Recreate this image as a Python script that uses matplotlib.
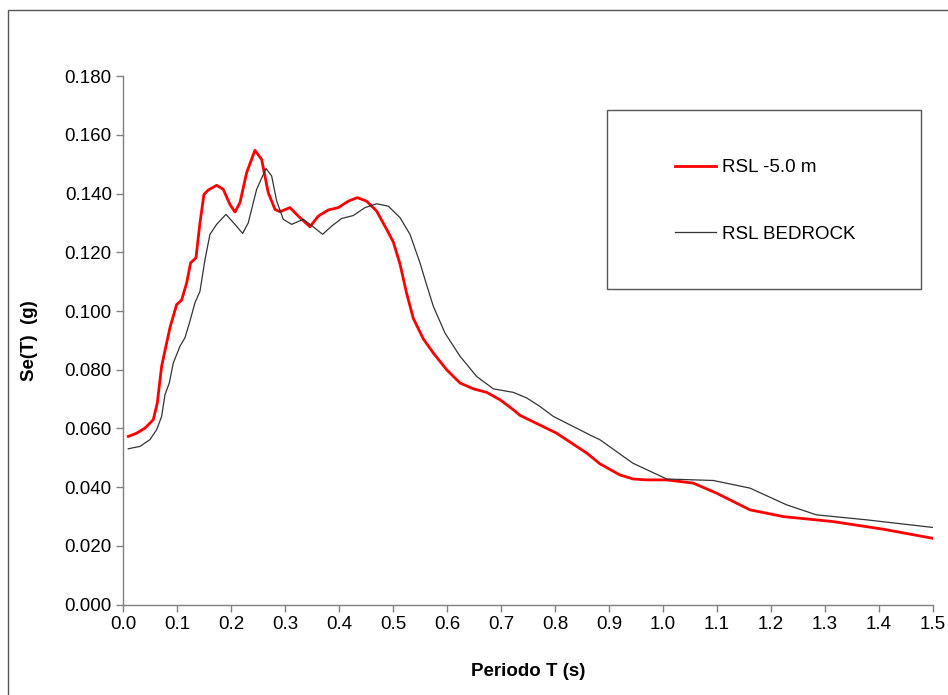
import matplotlib
matplotlib.use("Agg")
import matplotlib.pyplot as plt
from matplotlib.patches import Rectangle

# RSL -5.0 m (red)
t_rsl5 = [0.0099, 0.0253, 0.0407, 0.0562, 0.0636, 0.0716, 0.0796, 0.087, 0.0994, 0.1086,
          0.118, 0.1253, 0.1352, 0.1426, 0.150, 0.158, 0.1735, 0.1858, 0.198, 0.2074,
          0.2167, 0.229, 0.2444, 0.2568, 0.269, 0.2815, 0.2907, 0.3093, 0.3247, 0.3463,
          0.3617, 0.3802, 0.3988, 0.4173, 0.434, 0.4512, 0.4698, 0.4883, 0.5006, 0.513,
          0.5253, 0.5376, 0.5562, 0.5747, 0.5994, 0.6241, 0.6488, 0.6735, 0.6981, 0.7228,
          0.735, 0.803, 0.859, 0.883, 0.920, 0.945, 0.970, 1.007, 1.056, 1.099,
          1.161, 1.223, 1.315, 1.408, 1.5]
se_rsl5 = [0.0573, 0.0584, 0.0601, 0.063, 0.0687, 0.0812, 0.088, 0.0943, 0.1022, 0.1037,
           0.1096, 0.1164, 0.1181, 0.130, 0.1397, 0.1412, 0.1428, 0.1414, 0.1363, 0.1337,
           0.1369, 0.1471, 0.1547, 0.1516, 0.1403, 0.1346, 0.1338, 0.1352, 0.1323, 0.1287,
           0.1323, 0.1344, 0.1352, 0.1374, 0.1386, 0.1374, 0.134, 0.1278, 0.1235, 0.1160,
           0.1060, 0.0975, 0.0905, 0.0857, 0.080, 0.0755, 0.0735, 0.0723, 0.0698, 0.0664,
           0.0645, 0.0584, 0.0516, 0.048, 0.0442, 0.0428, 0.0425, 0.0425, 0.0414, 0.038,
           0.0323, 0.030, 0.0283, 0.0257, 0.0226]

# RSL BEDROCK (black)
t_bed = [0.0099, 0.0315, 0.050, 0.0624, 0.0716, 0.0778, 0.0858, 0.0932, 0.1056, 0.1148,
         0.124, 0.1333, 0.1426, 0.1519, 0.1611, 0.1735, 0.1907, 0.2074, 0.2216, 0.232,
         0.2475, 0.2648, 0.2753, 0.2846, 0.2969, 0.3123, 0.3339, 0.3494, 0.3698, 0.3864,
         0.405, 0.4265, 0.4481, 0.4698, 0.4913, 0.513, 0.5315, 0.55, 0.5593, 0.5747,
         0.5963, 0.6241, 0.655, 0.6858, 0.7228, 0.7476, 0.7722, 0.797, 0.870, 0.883,
         0.944, 1.007, 1.093, 1.161, 1.229, 1.284, 1.377, 1.5]
se_bed = [0.0531, 0.0539, 0.0562, 0.0596, 0.0641, 0.0715, 0.0755, 0.0823, 0.088, 0.0909,
          0.0965, 0.1028, 0.1067, 0.1175, 0.1261, 0.1295, 0.1329, 0.1295, 0.1264, 0.130,
          0.1414, 0.1485, 0.146, 0.1375, 0.1312, 0.1295, 0.1312, 0.1291, 0.1261, 0.1289,
          0.1315, 0.1325, 0.1352, 0.1365, 0.1357, 0.1318, 0.1261, 0.1164, 0.1107, 0.1016,
          0.0925, 0.0846, 0.0777, 0.0735, 0.0723, 0.0704, 0.0675, 0.0641, 0.0573, 0.0562,
          0.0482, 0.0428, 0.0423, 0.0397, 0.034, 0.0306, 0.0289, 0.0263]

x_ticks = [i / 10 for i in range(16)]
y_ticks = [i * 0.02 for i in range(10)]

plt.rcParams['font.family'] = ['Liberation Sans', 'DejaVu Sans']

fig = plt.figure(figsize=(9.48, 6.95), dpi=100)
fig.patches.append(Rectangle((8 / 948, -0.05), 1.0, 1.05 - 10 / 695,
                             transform=fig.transFigure, fill=False,
                             edgecolor='#555555', linewidth=1.0))

ax = fig.add_axes([0.1297, 0.1299, 0.8545, 0.7607])
ax.plot(t_rsl5, se_rsl5, color='#ff0000', linewidth=2.0, label='RSL -5.0 m',
        solid_joinstyle='round')
ax.plot(t_bed, se_bed, color='#333333', linewidth=0.9, label='RSL BEDROCK',
        solid_joinstyle='round')

ax.set_xlim(0, 1.5)
ax.set_ylim(0, 0.18)
ax.set_xticks(x_ticks)
ax.set_xticklabels(['%.1f' % v for v in x_ticks])
ax.set_yticks(y_ticks)
ax.set_yticklabels(['%.3f' % v for v in y_ticks])

for s in ['top', 'right']:
    ax.spines[s].set_visible(False)
for s in ['left', 'bottom']:
    ax.spines[s].set_color('#808080')
    ax.spines[s].set_linewidth(1.0)
ax.tick_params(direction='out', length=5, width=1.0, color='#808080',
               labelsize=13.5, labelcolor='black', pad=3)

ax.set_xlabel('Periodo T (s)', fontsize=13.5, fontweight='bold', labelpad=22)
ax.set_ylabel('Se(T)  (g)', fontsize=13.5, fontweight='bold', labelpad=19)

# legend box drawn separately, entries centred inside it
ax.add_patch(Rectangle((0.598, 0.598), 0.387, 0.338, transform=ax.transAxes,
                       fill=False, edgecolor='#555555', linewidth=1.0,
                       clip_on=False, zorder=5))
leg = ax.legend(loc='center', bbox_to_anchor=(0.7925, 0.7636), fontsize=13.5,
                frameon=False, labelspacing=2.65, handlelength=2.2,
                handletextpad=0.3, borderpad=0)

fig.savefig('out.png', dpi=100)
